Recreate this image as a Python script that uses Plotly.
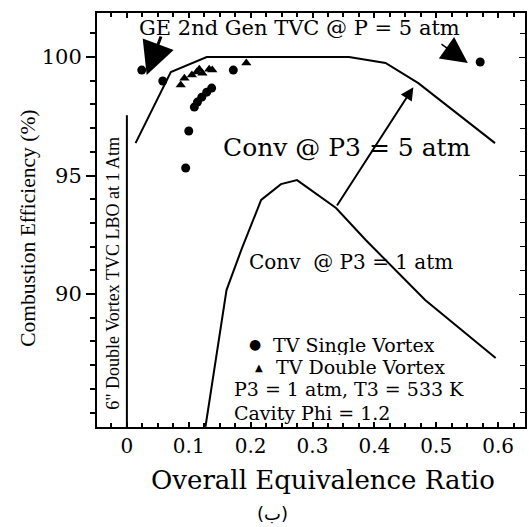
import plotly.graph_objects as go

# ---- data ----
conv5_phi = [0.014, 0.071, 0.129, 0.359, 0.418, 0.471, 0.595]
conv5_eff = [96.37, 99.37, 100.0, 100.0, 99.75, 98.9, 96.37]

conv1_phi = [0.127, 0.161, 0.186, 0.217, 0.249, 0.275, 0.338, 0.386, 0.482, 0.596]
conv1_eff = [84.4, 90.17, 91.94, 93.97, 94.64, 94.81, 93.63, 92.28, 89.75, 87.30]

single_phi = [0.024, 0.058, 0.172, 0.571, 0.137, 0.129, 0.121, 0.114, 0.109, 0.100, 0.095]
single_eff = [99.45, 98.99, 99.45, 99.79, 98.69, 98.52, 98.31, 98.10, 97.89, 96.88, 95.32]

double_phi = [0.087, 0.093, 0.105, 0.113, 0.117, 0.122, 0.133, 0.138, 0.193]
double_eff = [98.82, 99.11, 99.24, 99.37, 99.49, 99.32, 99.49, 99.45, 99.75]

lbo_phi = [0.0, 0.0]
lbo_eff = [97.55, 84.0]

x_ticks = [0, 0.1, 0.2, 0.3, 0.4, 0.5, 0.6]
x_ticklabels = ["0", "0.1", "0.2", "0.3", "0.4", "0.5", "0.6"]
y_ticks = [90, 95, 100]
y_ticklabels = ["90", "95", "100"]

X_RANGE = [-0.0483, 0.6434]
Y_RANGE = [84.39, 101.86]

SERIF_W = "DejaVu Serif"
SERIF_N = "Liberation Serif"

fig = go.Figure()
line_style = dict(color="black", width=2)
fig.add_trace(go.Scatter(x=conv5_phi, y=conv5_eff, mode="lines", line=line_style,
                         showlegend=False))
fig.add_trace(go.Scatter(x=conv1_phi, y=conv1_eff, mode="lines", line=line_style,
                         showlegend=False))
fig.add_trace(go.Scatter(x=lbo_phi, y=lbo_eff, mode="lines", line=line_style,
                         showlegend=False))
fig.add_trace(go.Scatter(x=single_phi, y=single_eff, mode="markers", name="TV Single Vortex",
                         marker=dict(symbol="circle", size=9, color="black"),
                         showlegend=False))
fig.add_trace(go.Scatter(x=double_phi, y=double_eff, mode="markers", name="TV Double Vortex",
                         marker=dict(symbol="triangle-up", size=9, color="black"),
                         showlegend=False))
fig.add_trace(go.Scatter(x=[], y=[], yaxis="y2", showlegend=False))

anns = []
def txt(text, x, y, size, family=SERIF_W, xanchor="center", angle=0, height=None):
    a = dict(text=text, x=x, y=y, xref="paper", yref="paper", showarrow=False,
             xanchor=xanchor, yanchor="middle", textangle=angle,
             font=dict(family=family, size=size, color="black"))
    if height is not None:
        a["height"] = height
    anns.append(a)

txt("GE 2nd Gen TVC @ P = 5 atm", 0.472, 0.964, 21)
txt("Conv @ P3 = 5 atm", 0.584, 0.674, 25)
txt("Conv  @ P3 = 1 atm", 0.593, 0.399, 20)
# legend (as text)
txt("●", 0.370, 0.200, 14, family="DejaVu Sans", height=20)
txt("TV Single Vortex", 0.407, 0.200, 19, xanchor="left", height=21)
txt("▲", 0.379, 0.145, 10, family="DejaVu Sans", height=20)
txt("TV Double Vortex", 0.414, 0.145, 19, xanchor="left", height=21)
txt("P3 = 1 atm, T3 = 533 K", 0.316, 0.092, 19, xanchor="left", height=21)
txt("Cavity Phi = 1.2", 0.316, 0.034, 19, xanchor="left", height=22)
txt("6\" Double Vortex TVC LBO at 1 Atm", 0.037, 0.372, 18, family=SERIF_N, angle=-90)
txt("Combustion Efficiency (%)", -0.160, 0.480, 21.5, family=SERIF_N, angle=-90)
txt("Overall Equivalence Ratio", 0.528, -0.128, 26)
txt("(ب)", 0.409, -0.208, 18, family="DejaVu Sans")

# arrows (data coordinates)
def arrow(x0, y0, x1, y1, width, size):
    anns.append(dict(x=x1, y=y1, ax=x0, ay=y0, xref="x", yref="y", axref="x", ayref="y",
                     text="", showarrow=True, arrowhead=2, arrowsize=size,
                     arrowwidth=width, arrowcolor="black"))

arrow(0.056, 100.93, 0.032, 99.24, 3, 2.2)
arrow(0.506, 100.59, 0.551, 99.75, 1.5, 3.5)
arrow(0.338, 93.67, 0.463, 98.73, 2, 1.3)

fig.update_layout(
    width=529, height=527,
    margin=dict(l=97, r=2, t=13, b=100),
    plot_bgcolor="white", paper_bgcolor="white",
    annotations=anns,
    showlegend=False,
    xaxis=dict(range=X_RANGE, tickvals=x_ticks, ticktext=x_ticklabels,
               showgrid=False, zeroline=False, showline=True, linecolor="black",
               linewidth=2, mirror="ticks", ticks="inside", ticklen=5,
               tickcolor="black", tickwidth=1.5,
               minor=dict(dtick=0.025, ticks="inside", ticklen=4, tickcolor="black",
                          showgrid=False),
               tickfont=dict(family=SERIF_W, size=20, color="black")),
    yaxis=dict(range=Y_RANGE, tickvals=y_ticks, ticktext=y_ticklabels,
               showgrid=False, zeroline=False, showline=True, linecolor="black",
               linewidth=2, mirror=True, ticks="outside", ticklen=9,
               tickcolor="black", tickwidth=1.5,
               minor=dict(dtick=1, ticks="outside", ticklen=5, tickcolor="black",
                          showgrid=False),
               tickfont=dict(family=SERIF_W, size=21, color="black")),
    yaxis2=dict(range=Y_RANGE, overlaying="y", side="right", showticklabels=False,
                showgrid=False, zeroline=False, ticks="inside", ticklen=6,
                tickvals=y_ticks, tickcolor="black",
                minor=dict(dtick=1, ticks="inside", ticklen=5, tickcolor="black",
                           showgrid=False)),
)

fig.write_html("out.html", config={"displayModeBar": False},
               post_script="document.body.style.margin='0';document.body.style.overflow='hidden';")
